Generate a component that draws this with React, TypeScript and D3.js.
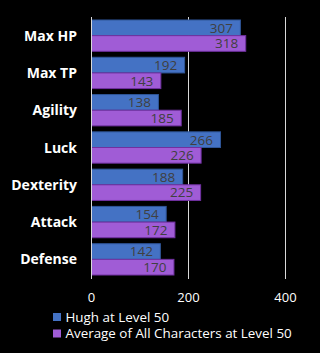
import React from 'react';
import * as d3 from 'd3';

const CATEGORIES = ['Max HP', 'Max TP', 'Agility', 'Luck', 'Dexterity', 'Attack', 'Defense'];
const HUGH = [307, 192, 138, 266, 188, 154, 142];
const AVERAGE = [318, 143, 185, 226, 225, 172, 170];
const TICKS = [0, 200, 400];
const SERIES = ['Hugh at Level 50', 'Average of All Characters at Level 50'];

const COLORS = ['#4472c4', '#a05cd6'];
const STROKES = ['#2f5597', '#7030a0'];

const W = 320;
const H = 353;
const FONT = "'Open Sans', 'DejaVu Sans', sans-serif";

const App = () => {
  const x = d3.scaleLinear().domain([0, 400]).range([91.5, 285.5]);
  const y = d3
    .scaleBand()
    .domain(CATEGORIES)
    .range([17, 278])
    .paddingInner(0.16)
    .paddingOuter(0.08);
  const inner = d3
    .scaleBand()
    .domain(['0', '1'])
    .range([0, y.bandwidth()]);

  const series = [HUGH, AVERAGE];

  return (
    <svg
      width={W}
      height={H}
      style={{ position: 'absolute', left: 0, top: 0, background: '#000' }}
      fontFamily={FONT}
    >
      <rect width={W} height={H} fill="#000" />
      {TICKS.slice(1).map(t => (
        <line key={t} x1={x(t)} x2={x(t)} y1={17} y2={279} stroke="#d9d9d9" strokeWidth={1} />
      ))}
      {CATEGORIES.map((c, i) => (
        <g key={c}>
          {series.map((vals, s) => {
            const y0 = (y(c) ?? 0) + (inner(String(s)) ?? 0);
            const bw = inner.bandwidth();
            return (
              <g key={s}>
                <rect
                  x={x(0)}
                  y={y0}
                  width={x(vals[i]) - x(0)}
                  height={bw}
                  fill={COLORS[s]}
                  stroke={STROKES[s]}
                  strokeWidth={1}
                />
                <text
                  x={x(vals[i]) - 7.5}
                  y={y0 + bw / 2}
                  dy="0.36em"
                  textAnchor="end"
                  fontSize={13.5}
                  fill="#404040"
                >
                  {vals[i]}
                </text>
              </g>
            );
          })}
          <text
            x={77}
            y={(y(c) ?? 0) + y.bandwidth() / 2}
            dy="0.36em"
            textAnchor="end"
            fontSize={14}
            fontWeight="bold"
            fill="#fff"
          >
            {c}
          </text>
        </g>
      ))}
      <line x1={x(0)} x2={x(0)} y1={17} y2={279} stroke="#d9d9d9" strokeWidth={1} />
      {TICKS.map(t => (
        <text key={t} x={x(t)} y={297} dy="0.36em" textAnchor="middle" fontSize={13} fill="#fff">
          {t}
        </text>
      ))}
      {SERIES.map((s, i) => (
        <g key={s} transform={`translate(53, ${313 + i * 16.5})`}>
          <rect width={8} height={8} fill={COLORS[i]} />
          <text x={12.5} y={4} dy="0.36em" fontSize={13.4} fill="#fff">
            {s}
          </text>
        </g>
      ))}
    </svg>
  );
};

export default App;
